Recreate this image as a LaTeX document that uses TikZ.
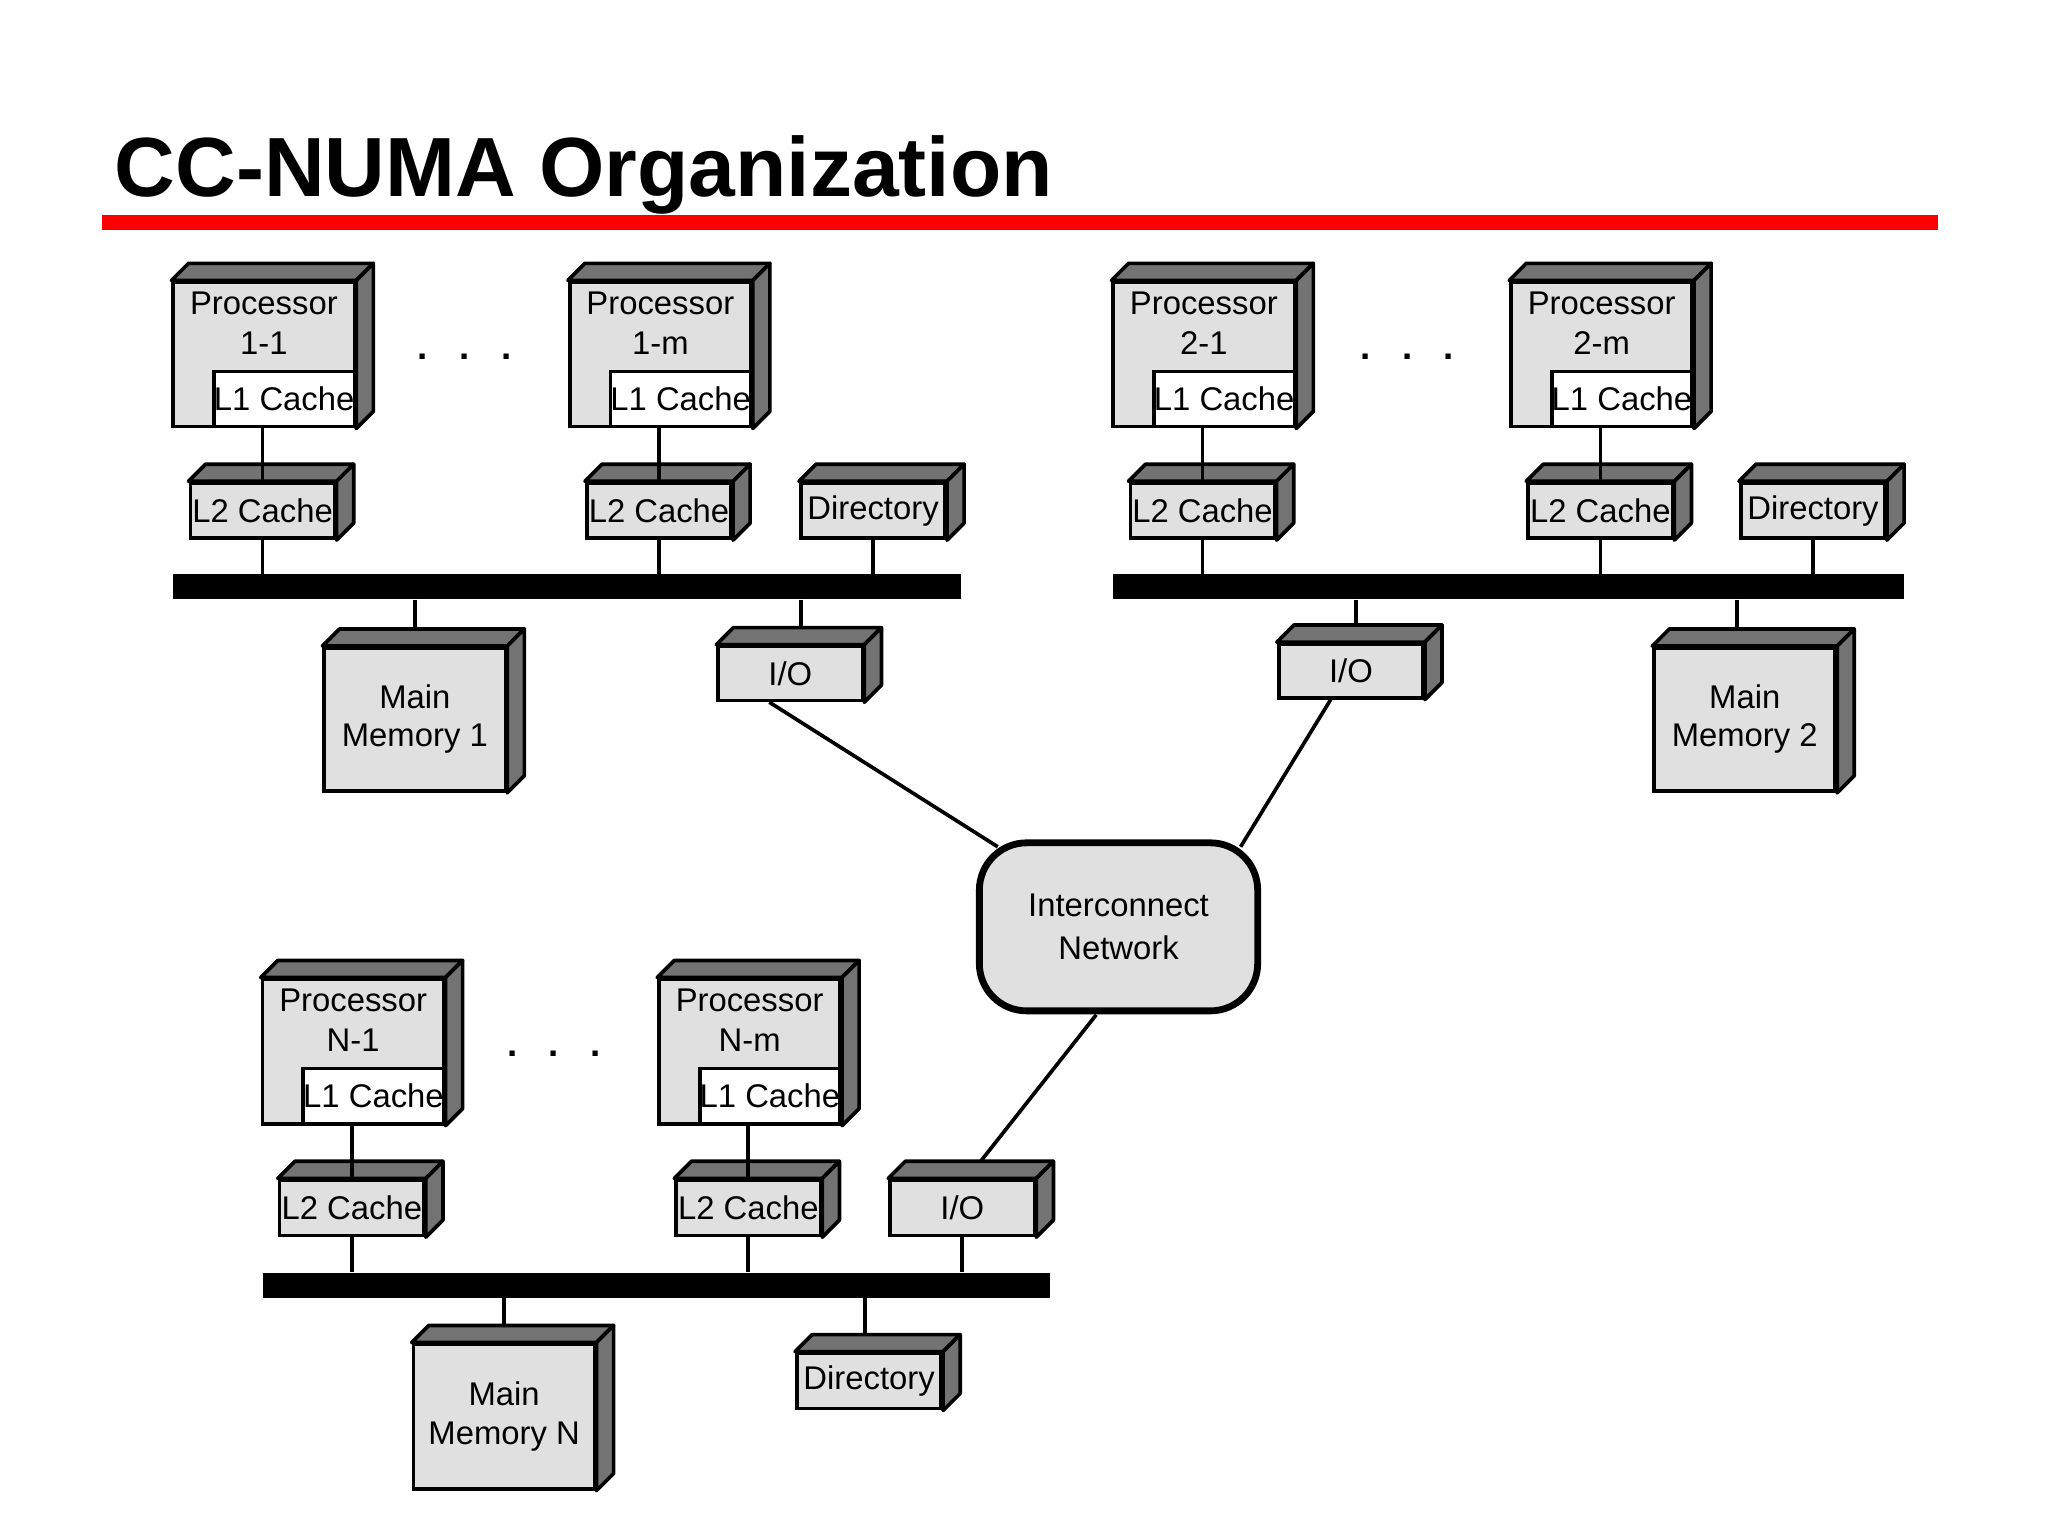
\documentclass[tikz,border=0pt]{standalone}
\usepackage{fontspec}
\setmainfont{Liberation Sans}
\begin{document}
\begin{tikzpicture}[x=0.5pt,y=-0.5pt,
  front/.style={draw,line width=1.4pt,fill=black!12,inner sep=0pt,align=center,font=\fontsize{12.5}{14.5}\selectfont},
  side/.style={draw,line width=1.4pt,fill=black!55,line join=round},
  wire/.style={line width=1.4pt},
  bus/.style={fill=black,draw=none,inner sep=0pt},
  dots/.style={font=\fontsize{14}{14}\selectfont\bfseries}]
\useasboundingbox (0,0) rectangle (1560,1170);
\newcommand\cube[6]{%
  \node[front,minimum width=#4*0.5pt,minimum height=#5*0.5pt] (#1) at (#2,#3) {#6};
  \draw[side] (#1.north west) -- ++(13,-13) -- ([shift={(13,-13)}]#1.north east) -- (#1.north east) -- cycle;
  \draw[side] (#1.north east) -- ++(13,-13) -- ([shift={(13,-13)}]#1.south east) -- (#1.south east) -- cycle;}
\newcommand\proc[4]{% name, x1, y1, label
  \cube{#1}{#2+69}{#3+55}{138}{110}{}
  \node[front,fill=white,minimum width=105*0.5pt,minimum height=42*0.5pt,anchor=south east] (#1c) at (#1.south east) {L1 Cache};
  \node[align=center,anchor=north,inner sep=0pt,font=\fontsize{12.5}{15.5}\selectfont] (#1t) at ([yshift=-4pt]#1.north) {Processor\\#4};}
% title
\node[anchor=base west,inner sep=0pt,font=\fontsize{32}{32}\selectfont\bfseries] (title) at (87,150) {CC-NUMA Organization};
\fill[red] (78,164) rectangle (1476,175);
% ---- node 1
\proc{p11}{132}{215}{1-1}
\proc{p1m}{434}{215}{1-m}
\cube{l2a}{200}{389}{110}{42}{L2 Cache}
\cube{l2b}{502}{389}{110}{42}{L2 Cache}
\cube{dir1}{665}{389}{110}{42}{Directory}
\node[bus,minimum width=600*0.5pt,minimum height=19*0.5pt] (bus1) at (432,447) {};
\cube{mm1}{316}{548}{138}{109}{Main\\Memory 1}
\cube{io1}{602}{513}{110}{41}{I/O}
\node[dots] (d1) at (354,272) {.\hspace{12pt}.\hspace{12pt}.};
\draw[wire] (p11.south -| l2a.north) -- (l2a.north);
\draw[wire] (p1m.south -| l2b.north) -- (l2b.north);
\draw[wire] (l2a.south) -- (l2a.south |- bus1.north);
\draw[wire] (l2b.south) -- (l2b.south |- bus1.north);
\draw[wire] (dir1.south) -- (dir1.south |- bus1.north);
\draw[wire] (bus1.south -| mm1.north) -- ([yshift=13*0.5pt]mm1.north);
\draw[wire] ([xshift=4pt]io1.north |- bus1.south) -- ([xshift=4pt,yshift=6.5pt]io1.north);
% ---- node 2
\proc{p21}{848}{215}{2-1}
\proc{p2m}{1151}{215}{2-m}
\cube{l2c}{916}{389}{110}{42}{L2 Cache}
\cube{l2d}{1219}{389}{110}{42}{L2 Cache}
\cube{dir2}{1381}{389}{110}{42}{Directory}
\node[bus,minimum width=602*0.5pt,minimum height=19*0.5pt] (bus2) at (1149,447) {};
\cube{mm2}{1329}{548}{138}{109}{Main\\Memory 2}
\cube{io2}{1029}{511}{110}{41}{I/O}
\node[dots] (d2) at (1072,272) {.\hspace{12pt}.\hspace{12pt}.};
\draw[wire] (p21.south -| l2c.north) -- (l2c.north);
\draw[wire] (p2m.south -| l2d.north) -- (l2d.north);
\draw[wire] (l2c.south) -- (l2c.south |- bus2.north);
\draw[wire] (l2d.south) -- (l2d.south |- bus2.north);
\draw[wire] (dir2.south) -- (dir2.south |- bus2.north);
\draw[wire] ([xshift=-3pt]bus2.south -| mm2.north) -- ([xshift=-3pt,yshift=6.5pt]mm2.north);
\draw[wire] ([xshift=2pt]io2.north |- bus2.south) -- ([xshift=2pt,yshift=6.5pt]io2.north);
% ---- interconnect
\node[draw,line width=2.6pt,fill=black!12,rounded corners=18pt,minimum width=212*0.5pt,minimum height=128*0.5pt,align=center,font=\fontsize{12.5}{16.5}\selectfont] (net) at (852,706) {Interconnect\\Network};
% ---- node N
\proc{pn1}{200}{746}{N-1}
\proc{pnm}{502}{746}{N-m}
\cube{l2e}{268}{920}{110}{42}{L2 Cache}
\cube{l2f}{570}{920}{110}{42}{L2 Cache}
\cube{ion}{733}{920}{110}{42}{I/O}
\node[bus,minimum width=600*0.5pt,minimum height=19*0.5pt] (busn) at (500,979) {};
\cube{mmn}{384}{1079}{138}{110}{Main\\Memory N}
\cube{dirn}{662}{1052}{110}{42}{Directory}
\node[dots] (d3) at (422,803) {.\hspace{12pt}.\hspace{12pt}.};
\draw[wire] (pn1.south -| l2e.north) -- (l2e.north);
\draw[wire] (pnm.south -| l2f.north) -- (l2f.north);
\draw[wire] (l2e.south) -- (l2e.south |- busn.north);
\draw[wire] (l2f.south) -- (l2f.south |- busn.north);
\draw[wire] (ion.south) -- (ion.south |- busn.north);
\draw[wire] (busn.south -| mmn.north) -- ([yshift=6.5pt]mmn.north);
\draw[wire] ([xshift=-1.5pt]busn.south -| dirn.north) -- ([xshift=-1.5pt,yshift=6.5pt]dirn.north);
% ---- network links
\draw[wire] ([xshift=-8pt]io1.south) -- (760,645);
\draw[wire] (io2.south west) ++(41,0) -- (945,645);
\draw[wire] (835,773) -- ([xshift=7pt,yshift=6.5pt]ion.north);
\end{tikzpicture}
\end{document}
